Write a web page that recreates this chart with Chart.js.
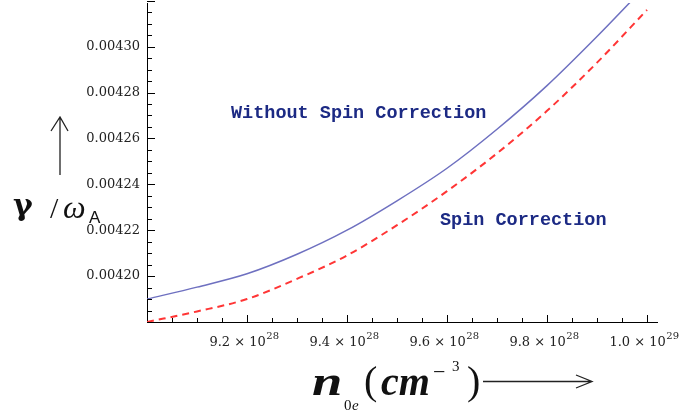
<!DOCTYPE html>
<html><head><meta charset="utf-8">
<script src="https://cdn.jsdelivr.net/npm/chart.js@4.4.0/dist/chart.umd.min.js"></script>
<style>html,body{margin:0;padding:0;background:#fff;} #wrap{width:680px;height:412px;position:relative;}</style>
</head><body><div id="wrap"><canvas id="c" width="680" height="412"></canvas></div>
<script>
// electron density n0e in units of 10^28 cm^-3
const densities = [9.0, 9.1, 9.2, 9.3, 9.4, 9.5, 9.6, 9.7, 9.8, 9.9, 10.0];
// gamma / omega_A
const withoutSpin = [0.004190, 0.0041952, 0.004201, 0.0042095, 0.004220, 0.0042328, 0.004247, 0.004264, 0.004283, 0.0043044, 0.004327];
const withSpin    = [0.004180, 0.0041846, 0.004190, 0.0041988, 0.004209, 0.0042222, 0.004237, 0.0042535, 0.004272, 0.004293, 0.004316];
const xTickValues = [9.2, 9.4, 9.6, 9.8, 10.0];
const xTickMantissas = ['9.2', '9.4', '9.6', '9.8', '1.0'];
const xTickExponents = ['28', '28', '28', '28', '29'];
const yTickValues = [0.00420, 0.00422, 0.00424, 0.00426, 0.00428, 0.00430];
const yTickLabels = ['0.00420', '0.00422', '0.00424', '0.00426', '0.00428', '0.00430'];
const seriesNames = ['Without Spin Correction', 'Spin Correction'];

const X_MIN = 9.0, X_MAX = 10.02, Y_MIN = 0.00418, Y_MAX = 0.004319;

function zeroPad(s) { s.paddingLeft = 0; s.paddingRight = 0; s.paddingTop = 0; s.paddingBottom = 0; }

const decor = {
  id: 'decor',
  afterDraw(chart) {
    const ctx = chart.ctx, xs = chart.scales.x, ys = chart.scales.y, a = chart.chartArea;
    ctx.save();
    ctx.strokeStyle = '#000'; ctx.lineWidth = 1;
    // inward tick marks
    ctx.beginPath();
    for (let i = 1; i <= Math.round((X_MAX - X_MIN) / 0.05); i++) {
      const v = X_MIN + i * 0.05;
      const px = Math.round(xs.getPixelForValue(v)) + 0.5;
      const major = i % 4 === 0;
      ctx.moveTo(px, a.bottom); ctx.lineTo(px, a.bottom - (major ? 7 : 4));
    }
    for (let i = 1; i <= Math.round((Y_MAX - Y_MIN) / 0.000005); i++) {
      const v = Y_MIN + i * 0.000005;
      const py = Math.round(ys.getPixelForValue(v)) + 0.5;
      const major = i % 4 === 0;
      ctx.moveTo(a.left, py); ctx.lineTo(a.left + (major ? 8 : 5), py);
    }
    ctx.stroke();

    // x tick labels  (mantissa × 10^exp)
    ctx.fillStyle = '#222'; ctx.textBaseline = 'alphabetic'; ctx.textAlign = 'left';
    xs.ticks.forEach((t, i) => {
      const px = xs.getPixelForValue(t.value);
      const base = xTickMantissas[i] + ' × 10';
      ctx.font = '13px "DejaVu Serif"';
      const wb = ctx.measureText(base).width;
      ctx.font = '10px "DejaVu Serif"';
      const we = ctx.measureText(xTickExponents[i]).width;
      const x0 = px - (wb + we) / 2 - 3;
      ctx.font = '13px "DejaVu Serif"';
      ctx.fillText(base, x0, a.bottom + 23.5);
      ctx.font = '10px "DejaVu Serif"';
      ctx.fillText(xTickExponents[i], x0 + wb + 0.5, a.bottom + 16.5);
    });

    // annotations
    ctx.fillStyle = '#1c2a84';
    ctx.font = 'bold 18.5px "Liberation Mono"';
    ctx.fillText(seriesNames[0], 231, 118);
    ctx.fillText(seriesNames[1], 440, 225);

    // y-axis title
    ctx.fillStyle = '#111';
    ctx.font = 'bold 30px "DejaVu Serif"';
    ctx.fillText('γ', 13, 215);
    ctx.font = '30px "Liberation Serif"';
    ctx.fillText('/', 50, 218);
    ctx.font = 'italic 32px "Liberation Serif"';
    ctx.fillText('ω', 63, 218);
    ctx.font = '17px "Liberation Sans"';
    ctx.fillText('A', 89, 223);
    // y arrow
    ctx.strokeStyle = '#222'; ctx.lineWidth = 1.3;
    ctx.beginPath();
    ctx.moveTo(60, 175); ctx.lineTo(60, 117);
    ctx.moveTo(51, 131); ctx.lineTo(60, 117); ctx.lineTo(68, 131);
    ctx.stroke();

    // x-axis title
    ctx.fillStyle = '#111';
    ctx.save();
    ctx.translate(312, 395); ctx.scale(1.3, 1);
    ctx.font = 'bold italic 42px "Liberation Serif"';
    ctx.fillText('n', 0, 0);
    ctx.restore();
    ctx.font = '15px "Liberation Serif"';
    ctx.fillText('0', 344, 410);
    ctx.font = 'italic 15px "Liberation Serif"';
    ctx.fillText('e', 352, 410);
    ctx.font = '40px "Liberation Serif"';
    ctx.fillText('(', 364, 394);
    ctx.font = 'bold italic 40px "Liberation Serif"';
    ctx.fillText('cm', 381, 395);
    ctx.font = '22px "Liberation Serif"';
    ctx.fillText('−', 433, 379);
    ctx.font = '15px "Liberation Serif"';
    ctx.fillText('3', 452, 371);
    ctx.font = '40px "Liberation Serif"';
    ctx.fillText(')', 467, 394);
    // x arrow
    ctx.beginPath();
    ctx.moveTo(483, 381.5); ctx.lineTo(592, 381.5);
    ctx.moveTo(576, 375); ctx.lineTo(592, 381.5); ctx.lineTo(576, 388);
    ctx.stroke();
    ctx.restore();
  }
};

new Chart(document.getElementById('c'), {
  type: 'line',
  data: {
    datasets: [
      { label: seriesNames[0], data: densities.map((d, i) => ({x: d, y: withoutSpin[i]})),
        borderColor: '#6e70c0', borderWidth: 1.5, pointRadius: 0, cubicInterpolationMode: 'monotone', fill: false },
      { label: seriesNames[1], data: densities.map((d, i) => ({x: d, y: withSpin[i]})),
        borderColor: '#ff3535', borderWidth: 2, borderDash: [7, 5], pointRadius: 0, cubicInterpolationMode: 'monotone', fill: false }
    ]
  },
  options: {
    responsive: false, animation: false, devicePixelRatio: 1,
    layout: { padding: { left: 0, right: 23, top: 3, bottom: 0 } },
    plugins: { legend: { display: false }, tooltip: { enabled: false } },
    scales: {
      x: {
        type: 'linear', min: X_MIN, max: X_MAX,
        afterBuildTicks: s => { s.ticks = xTickValues.map(v => ({ value: v })); },
        afterFit: s => { s.height = 90; zeroPad(s); },
        ticks: { display: false, autoSkip: false, maxRotation: 0, minRotation: 0 },
        grid: { display: false, drawTicks: false },
        border: { display: true, color: '#000', width: 1 }
      },
      y: {
        min: Y_MIN, max: Y_MAX,
        afterBuildTicks: s => { s.ticks = yTickValues.map(v => ({ value: v })); },
        afterFit: s => { s.width = 147; zeroPad(s); },
        ticks: { callback: (v, i) => yTickLabels[i], autoSkip: false,
                 font: { family: 'DejaVu Serif', size: 13 }, color: '#222', padding: 7 },
        grid: { display: false, drawTicks: false },
        border: { display: true, color: '#000', width: 1 }
      }
    }
  },
  plugins: [decor]
});
</script></body></html>
